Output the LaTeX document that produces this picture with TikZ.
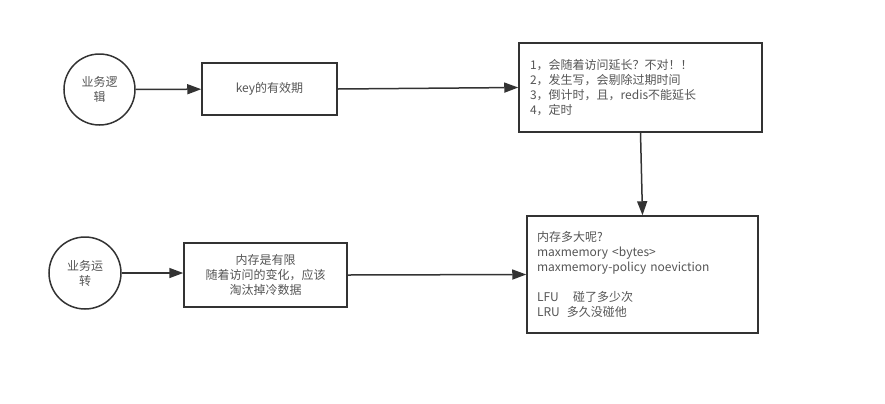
\documentclass[tikz,border=0pt]{standalone}
\usepackage{fontspec}
\setmainfont{Noto Sans CJK SC}
\usetikzlibrary{arrows.meta}
\definecolor{linec}{HTML}{333333}
\definecolor{textc}{HTML}{555555}
\begin{document}
\begin{tikzpicture}[x=1bp,y=-1bp,
  every node/.style={font=\fontsize{12bp}{15bp}\selectfont, text=textc},
  proc/.style={draw=linec, line width=1.5bp, inner sep=0, align=center},
  note/.style={draw=linec, line width=1.5bp, inner ysep=0, align=left},
  actor/.style={draw=linec, circle, line width=1.5bp, inner sep=0, align=center},
  link/.style={draw=linec, line width=1.5bp, -{Triangle[length=14bp,width=10bp]}}]
\fill[white] (0,0) rectangle (885,403);
\useasboundingbox (0,0) rectangle (885,403);

\node[actor, minimum size=71bp] (c1) at (99.5,89.5) {业务逻\\辑};
\node[proc, minimum width=135bp, minimum height=52bp] (b1) at (269.5,89) {key的有效期};
\node[note, inner xsep=11bp, text width=221bp, minimum height=89bp] (b2) at (640.5,87.5)
  {1，会随着访问延长？不对！！\\2，发生写，会剔除过期时间\\3，倒计时，且，redis不能延长\\4，定时};

\node[actor, minimum size=72bp] (c2) at (85,273) {业务运\\转};
\node[proc, minimum width=163bp, minimum height=64bp] (b4) at (265.5,275) {内存是有限\\随着访问的变化，应该\\淘汰掉冷数据};
\node[note, inner xsep=10bp, text width=211bp, minimum height=117bp] (b3) at (642.5,274.5)
  {内存多大呢?\\maxmemory <bytes>\\maxmemory-policy noeviction\\[15bp]LFU\hspace{1.2em}碰了多少次\\LRU\hspace{0.6em}多久没碰他};

\draw[link] (c1) -- (b1);
\draw[link] (b1.east) -- (b2.west);
\draw[link] (b2.south) -- (b3.north);
\draw[link] (c2.east) -- (c2.east -| b4.west);
\draw[link] (b4.east) -- (b3.west);
\end{tikzpicture}
\end{document}
